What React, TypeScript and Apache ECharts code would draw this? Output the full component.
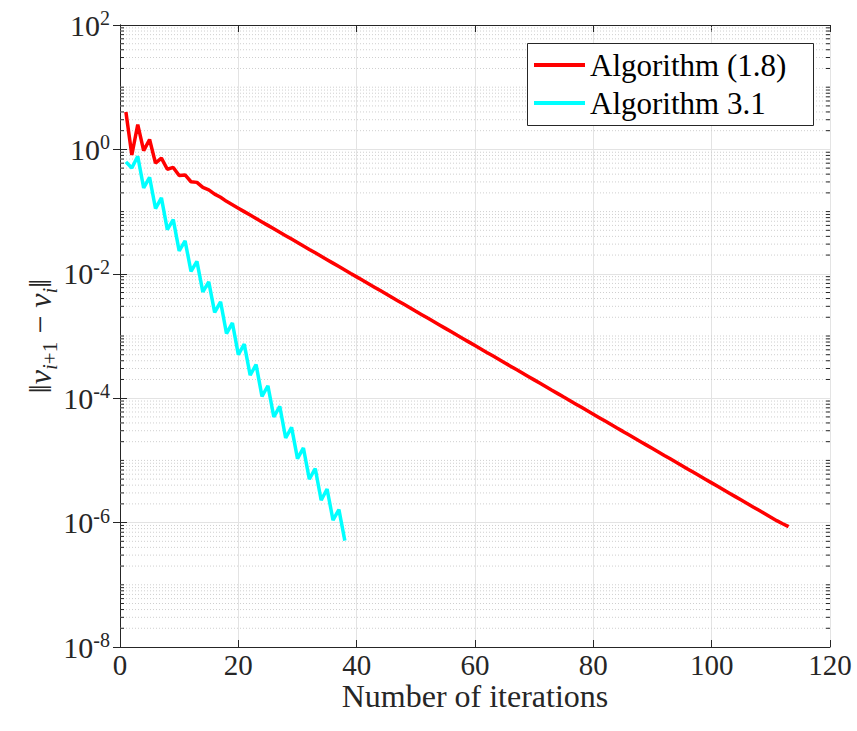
import React, { useEffect, useRef } from 'react';
import * as echarts from 'echarts';

// ‖v_{i+1} − v_i‖ per iteration (iteration number = index + 1)
const seriesNames = ['Algorithm (1.8)', 'Algorithm 3.1'];

const redValues = [
  3.98, 0.813, 2.51, 0.955, 1.445, 0.603, 0.724, 0.479, 0.513, 0.38,
  0.389, 0.302, 0.295, 0.245, 0.224, 0.191, 0.17, 0.1462, 0.1288, 0.1134,
  0.09986, 0.08794, 0.07745, 0.0682, 0.06006, 0.05289, 0.04658, 0.04102, 0.03612, 0.03181,
  0.02802, 0.02467, 0.02173, 0.01913, 0.01685, 0.01484, 0.01307, 0.01151, 0.01013, 0.008924,
  0.007858, 0.00692, 0.006094, 0.005367, 0.004726, 0.004162, 0.003665, 0.003228, 0.002843, 0.002503,
  0.002205, 0.001941, 0.00171, 0.001506, 0.001326, 0.001168, 0.001028, 9.054e-4, 7.973e-4, 7.022e-4,
  6.183e-4, 5.445e-4, 4.796e-4, 4.223e-4, 3.719e-4, 3.275e-4, 2.884e-4, 2.54e-4, 2.237e-4, 1.97e-4,
  1.735e-4, 1.528e-4, 1.345e-4, 1.185e-4, 1.043e-4, 9.188e-5, 8.091e-5, 7.125e-5, 6.275e-5, 5.526e-5,
  4.866e-5, 4.285e-5, 3.774e-5, 3.323e-5, 2.927e-5, 2.577e-5, 2.27e-5, 1.999e-5, 1.76e-5, 1.55e-5,
  1.365e-5, 1.202e-5, 1.059e-5, 9.326e-6, 8.213e-6, 7.233e-6, 6.37e-6, 5.61e-6, 4.94e-6, 4.35e-6,
  3.831e-6, 3.374e-6, 2.971e-6, 2.616e-6, 2.304e-6, 2.029e-6, 1.787e-6, 1.574e-6, 1.386e-6, 1.221e-6,
  1.075e-6, 9.6e-7, 8.6e-7,
];

const cyanValues = [
  0.631, 0.501, 0.776, 0.24, 0.355, 0.112, 0.166, 0.0513, 0.0741, 0.0234,
  0.0339, 0.01096, 0.01585, 0.00513, 0.00741, 0.0024, 0.00355, 0.001096, 0.00162, 5.01e-4,
  7.41e-4, 2.34e-4, 3.47e-4, 1.07e-4, 1.585e-4, 5.01e-5, 7.41e-5, 2.29e-5, 3.39e-5, 1.07e-5,
  1.585e-5, 5.01e-6, 7.41e-6, 2.29e-6, 3.47e-6, 1.096e-6, 1.62e-6, 5.13e-7,
];

const X_MIN = 0;
const X_MAX = 120;
const X_INTERVAL = 20;
const Y_MIN = 1e-8;
const Y_MAX = 1e2;
const minorMantissas = [2, 3, 4, 5, 6, 7, 8, 9];
const decadeExponents = [-8, -7, -6, -5, -4, -3, -2, -1, 0, 1];
const unlabeledDecades = [1e-7, 1e-5, 1e-3, 1e-1, 1e1];

const SERIF = 'Liberation Serif';
const AXIS_COLOR = '#262626';
const FONT_CSS = '.serif-chart svg text, .serif-chart svg tspan { font-family: "Liberation Serif", "Times New Roman", serif !important; }';

export default function App() {
  const ref = useRef<HTMLDivElement>(null);

  useEffect(() => {
    if (!ref.current) return;
    const chart = echarts.init(ref.current, undefined, { renderer: 'svg' });

    const minorValues: number[] = [...unlabeledDecades];
    decadeExponents.forEach((e) => {
      minorMantissas.forEach((m) => minorValues.push(m * Math.pow(10, e)));
    });

    const supLabel = (value: number) => {
      const e = Math.round(Math.log10(value));
      return `{b|10}{s|${e}}`;
    };

    const option: any = {
      animation: false,
      textStyle: { fontFamily: SERIF },
      grid: { left: 120, top: 25, right: 27, bottom: 84 },
      xAxis: [
        {
          type: 'value', min: X_MIN, max: X_MAX, interval: X_INTERVAL, position: 'bottom',
          name: 'Number of iterations', nameLocation: 'middle', nameGap: 36, nameMoveOverlap: false,
          nameTextStyle: { fontFamily: SERIF, fontSize: 32, lineHeight: 26, color: AXIS_COLOR },
          axisLine: { show: true, lineStyle: { color: AXIS_COLOR, width: 1 } },
          axisTick: { show: true, inside: true, length: 7, lineStyle: { color: AXIS_COLOR } },
          axisLabel: { fontFamily: SERIF, fontSize: 29, lineHeight: 24, color: AXIS_COLOR, margin: 6 },
          splitLine: { show: true, lineStyle: { color: '#e3e3e3', width: 1 } },
        },
        {
          type: 'value', min: X_MIN, max: X_MAX, interval: X_INTERVAL, position: 'top',
          axisLine: { show: true, lineStyle: { color: AXIS_COLOR, width: 1 } },
          axisTick: { show: true, inside: true, length: 7, lineStyle: { color: AXIS_COLOR } },
          axisLabel: { show: false },
          splitLine: { show: false },
        },
      ],
      yAxis: [
        {
          type: 'log', logBase: 10, min: Y_MIN, max: Y_MAX, interval: 2, splitNumber: 5, position: 'left',
          name: '{n|‖}{v|v}{si|i}{sn|+1}{n| − }{v|v}{si|i}{n|‖}',
          nameLocation: 'middle', nameGap: 60, nameRotate: 90, nameMoveOverlap: false,
          nameTextStyle: {
            fontFamily: SERIF,
            color: AXIS_COLOR,
            rich: {
              n: { fontFamily: SERIF, fontSize: 32, lineHeight: 40, color: AXIS_COLOR },
              v: { fontFamily: SERIF, fontSize: 32, lineHeight: 40, fontStyle: 'italic', color: AXIS_COLOR },
              si: { fontFamily: SERIF, fontSize: 21, lineHeight: 14, fontStyle: 'italic', verticalAlign: 'bottom', color: AXIS_COLOR },
              sn: { fontFamily: SERIF, fontSize: 21, lineHeight: 14, verticalAlign: 'bottom', color: AXIS_COLOR },
            },
          },
          axisLine: { show: true, lineStyle: { color: AXIS_COLOR, width: 1 } },
          axisTick: { show: true, inside: true, length: 7, lineStyle: { color: AXIS_COLOR } },
          axisLabel: {
            margin: 10,
            fontFamily: SERIF,
            formatter: supLabel,
            rich: {
              b: { fontFamily: SERIF, fontSize: 30, lineHeight: 34, color: AXIS_COLOR },
              s: { fontFamily: SERIF, fontSize: 20, lineHeight: 14, verticalAlign: 'top', color: AXIS_COLOR },
            },
          },
          splitLine: { show: true, lineStyle: { color: '#e3e3e3', width: 1 } },
        },
        {
          type: 'log', logBase: 10, min: Y_MIN, max: Y_MAX, interval: 2, splitNumber: 5, position: 'right',
          axisLine: { show: true, lineStyle: { color: AXIS_COLOR, width: 1 } },
          axisTick: { show: true, inside: true, length: 7, lineStyle: { color: AXIS_COLOR } },
          axisLabel: { show: false },
          splitLine: { show: false },
        },
      ],
      legend: {
        data: seriesNames,
        orient: 'vertical',
        left: 534,
        top: 48,
        padding: 0,
        icon: 'rect',
        itemWidth: 51,
        itemHeight: 4,
        itemGap: 4,
        z: 20,
        textStyle: { fontFamily: SERIF, fontSize: 31, color: '#000', lineHeight: 34 },
      },
      graphic: [
        {
          type: 'rect', left: 527, top: 43, z: 10,
          shape: { width: 286, height: 82 },
          style: { fill: '#fff', stroke: AXIS_COLOR, lineWidth: 1 },
        },
      ],
      series: [
        {
          type: 'custom',
          name: 'minor',
          xAxisIndex: 0,
          yAxisIndex: 0,
          silent: true,
          z: 1,
          encode: { x: 0, y: 1 },
          data: minorValues.map((v) => [X_MIN, v]),
          renderItem: (_params: any, api: any) => {
            const v = api.value(1);
            const a = api.coord([X_MIN, v]);
            const b = api.coord([X_MAX, v]);
            return {
              type: 'group',
              children: [
                { type: 'line', shape: { x1: a[0], y1: a[1], x2: b[0], y2: b[1] }, style: { stroke: '#cfcfcf', lineWidth: 1, lineDash: [1, 2] } },
                { type: 'line', shape: { x1: a[0], y1: a[1], x2: a[0] + 4, y2: a[1] }, style: { stroke: AXIS_COLOR, lineWidth: 1 } },
                { type: 'line', shape: { x1: b[0] - 4, y1: b[1], x2: b[0], y2: b[1] }, style: { stroke: AXIS_COLOR, lineWidth: 1 } },
              ],
            };
          },
        },
        {
          type: 'line',
          name: seriesNames[0],
          symbol: 'none',
          showSymbol: false,
          z: 3,
          color: '#ff0000',
          itemStyle: { color: '#ff0000' },
          lineStyle: { color: '#ff0000', width: 3.5 },
          data: redValues.map((v, i) => [i + 1, v]),
        },
        {
          type: 'line',
          name: seriesNames[1],
          symbol: 'none',
          showSymbol: false,
          z: 3,
          color: '#00ffff',
          itemStyle: { color: '#00ffff' },
          lineStyle: { color: '#00ffff', width: 3.5 },
          data: cyanValues.map((v, i) => [i + 1, v]),
        },
      ],
    };

    chart.setOption(option);
    return () => chart.dispose();
  }, []);

  return (
    <>
      <style>{FONT_CSS}</style>
      <div
        ref={ref}
        className="serif-chart"
        style={{ position: 'fixed', left: 0, top: 0, width: 857, height: 731, background: '#fff' }}
      />
    </>
  );
}
